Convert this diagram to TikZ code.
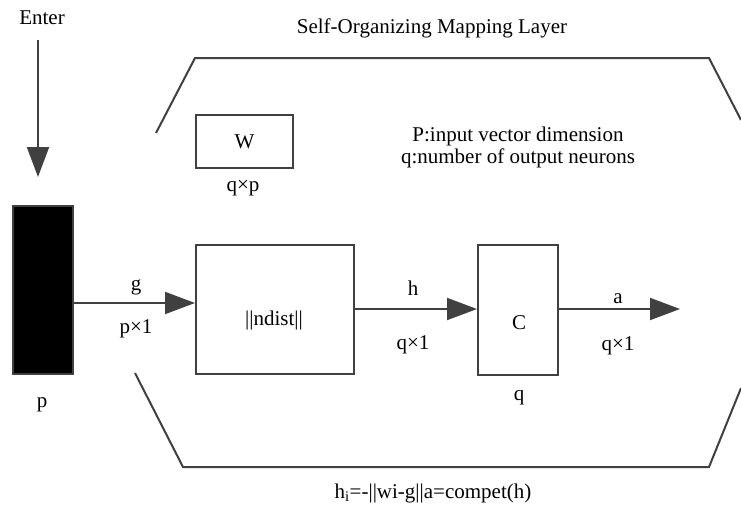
\documentclass[tikz,border=0pt]{standalone}
\usepackage{fontspec}
\setmainfont{Liberation Serif}
\usepackage{xcolor}
\usetikzlibrary{arrows.meta,positioning}
\definecolor{lineG}{HTML}{404040}

\begin{document}
\begin{tikzpicture}[x=1pt,y=-1pt,
  blk/.style={draw=lineG, line width=2pt, inner sep=0pt, anchor=north west},
  arr/.style={draw=lineG, line width=2pt, -{Triangle[length=30pt,width=22pt]}},
  rim/.style={draw=lineG, line width=2pt, line join=miter},
  lbl/.style={font=\fontsize{21}{22}\selectfont, inner sep=0pt}
]
\useasboundingbox (0,0) rectangle (741,515);
% layer outline
\draw[rim] (156,133) -- (195,58) -- (709,58) -- (741,120);
\draw[rim] (135,373) -- (183,467) -- (709,467) -- (741,388);
\node[lbl] (title) at (432,28) {Self-Organizing Mapping Layer};
% input
\node[lbl] (enter) at (42,18) {Enter};
\coordinate (ein) at (38,40);
\coordinate (eout) at (38,177);
\draw[arr] (ein) -- (eout);
\node[blk, fill=black, minimum width=60pt, minimum height=168pt] (bar) at (12,205) {};
\node[lbl] (pin) at (42,405) {p};
% weights
\node[blk, minimum width=97pt, minimum height=53pt] (w) at (195,114) {};
\node[lbl] at (w.center) {W};
\node[lbl] (wdim) at (243,188) {q×p};
\node[lbl, align=center] (legend) at (518,147) {P:input vector dimension\\q:number of output neurons};
% ndist
\node[blk, minimum width=158pt, minimum height=129pt] (nd) at (195,244) {};
\node[lbl] (ndtxt) at (274,320) {||ndist||};
\coordinate (gy) at (0,303);
\draw[arr] (gy -| bar.east) -- (gy -| nd.west);
\node[lbl] (g) at (136,287) {g};
\node[lbl] (gdim) at (136,329) {p×1};
% compet
\node[blk, minimum width=80pt, minimum height=130pt] (c) at (477,244) {};
\node[lbl] (ctxt) at (519,323) {C};
\node[lbl] (cq) at (519,398) {q};
\coordinate (hy) at (0,309);
\draw[arr] (hy -| nd.east) -- (hy -| c.west);
\node[lbl] (h) at (413,288) {h};
\node[lbl] (hdim) at (413,345) {q×1};
\coordinate (aout) at (680,309);
\draw[arr] (hy -| c.east) -- (aout);
\node[lbl] (a) at (618,299) {a};
\node[lbl] (adim) at (618,346) {q×1};
% formula
\node[lbl] (form) at (433,493) {h\textsubscript{i}=-||wi-g||a=compet(h)};
\end{tikzpicture}
\end{document}
